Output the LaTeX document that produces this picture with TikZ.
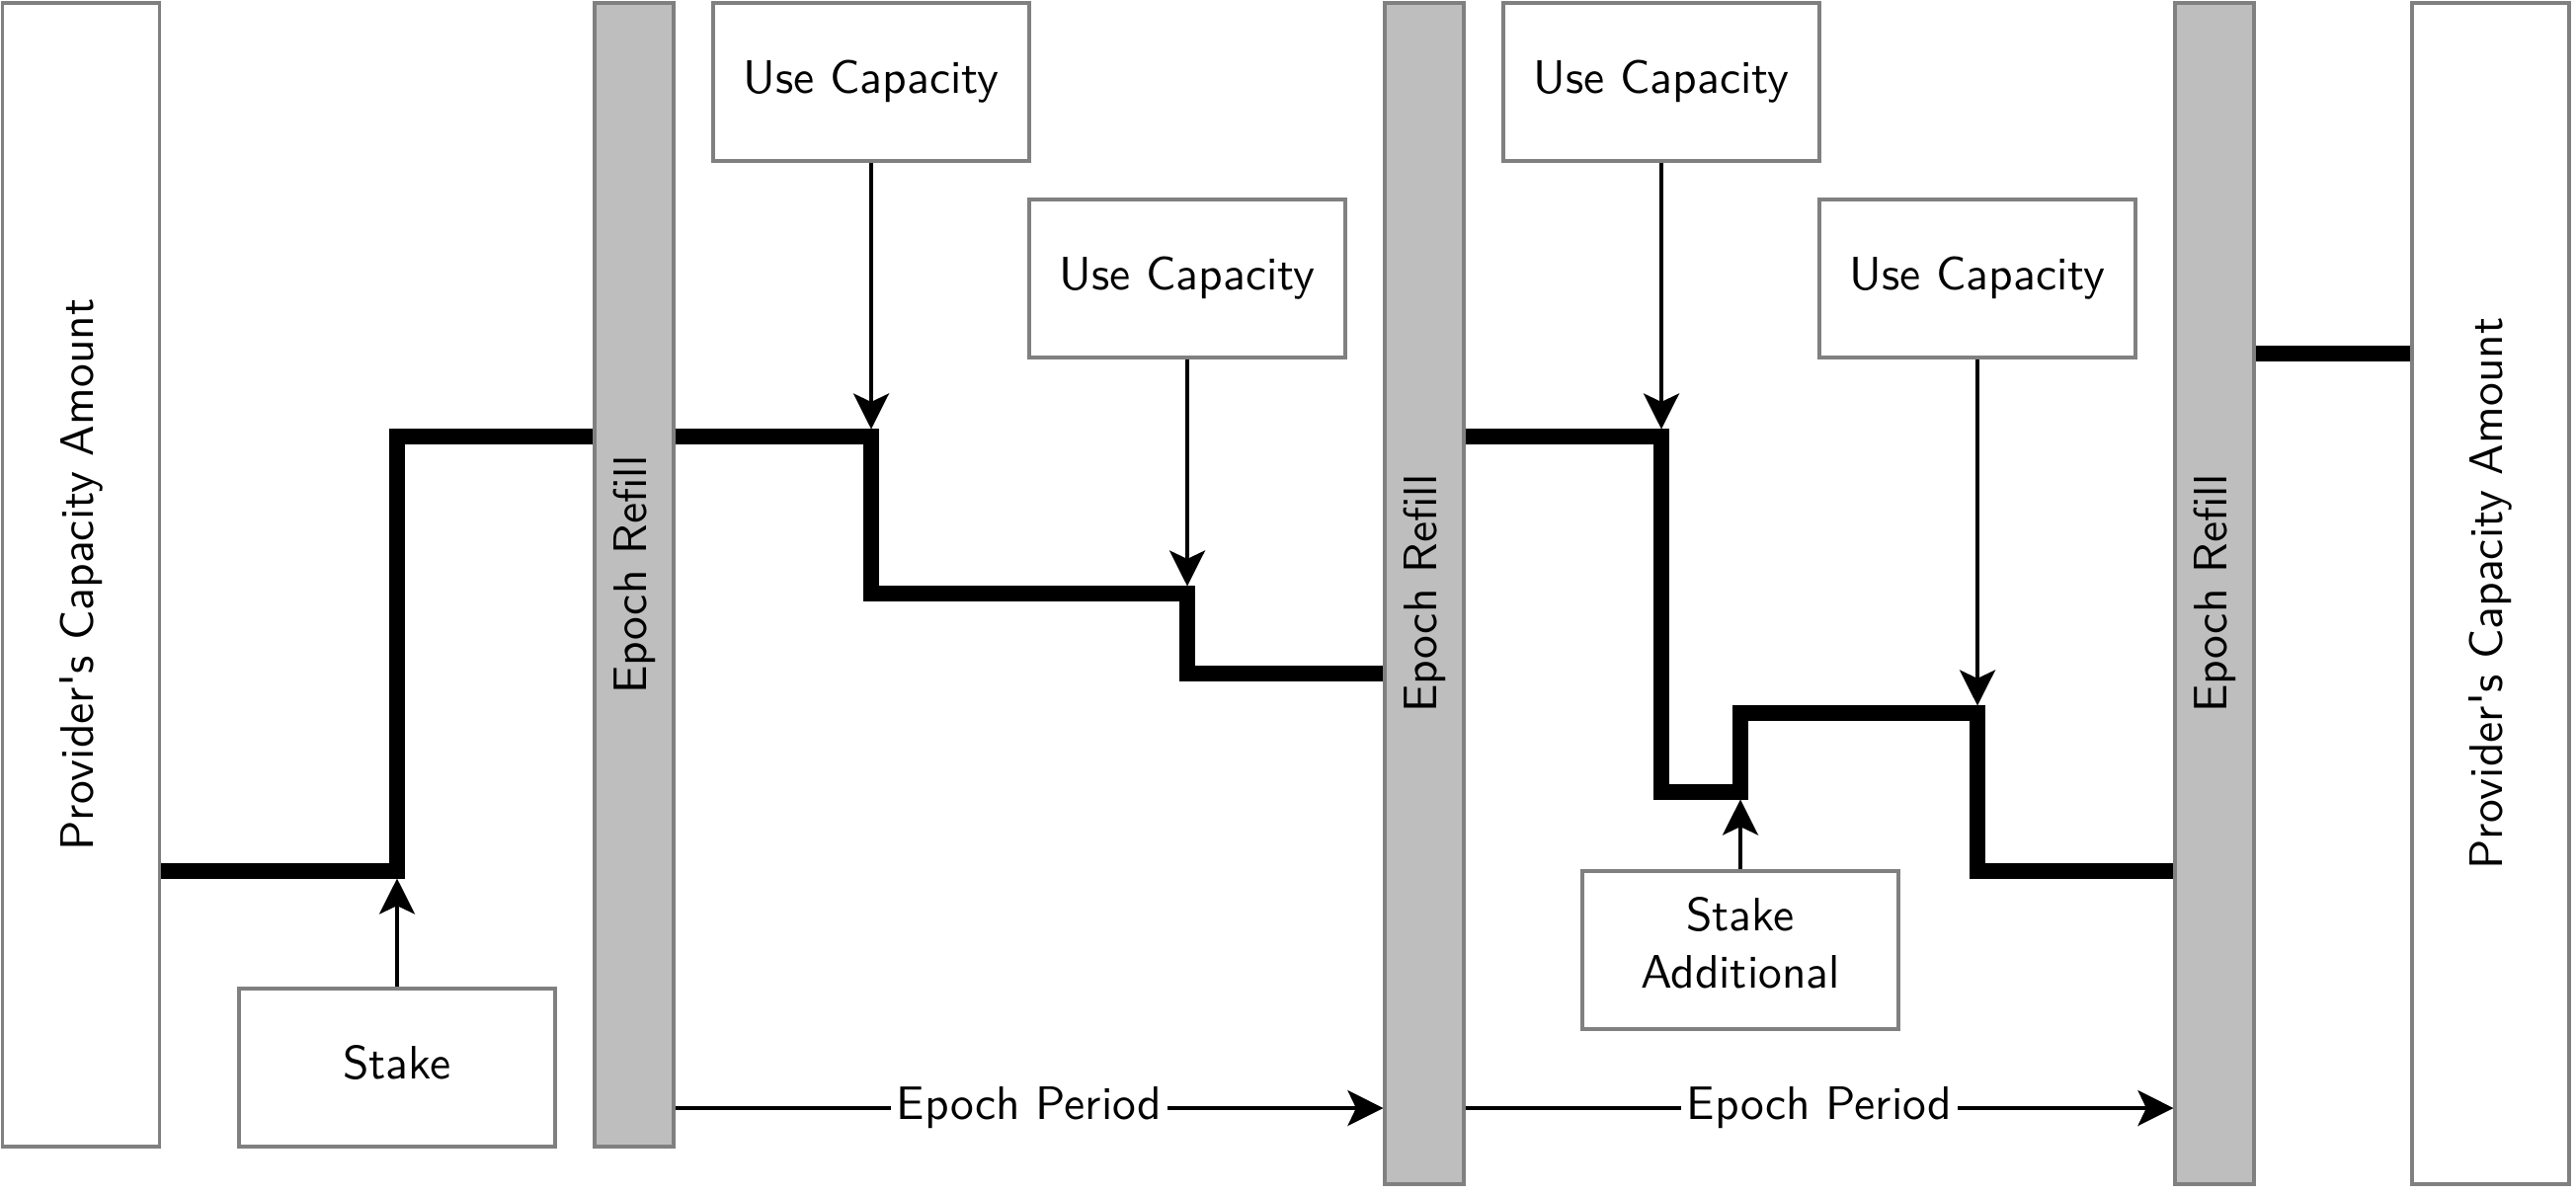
\documentclass[tikz,border=0pt]{standalone}
\usepackage{fontspec}
\usetikzlibrary{arrows.meta}
\definecolor{bordergray}{RGB}{128,128,128}
\definecolor{barfill}{RGB}{190,190,190}
\def\pxu{0.2105pt}
\tikzset{
  rbox/.style 2 args={draw=bordergray, line width=0.65pt, fill=white, inner sep=0pt,
    minimum width=#1*\pxu, minimum height=#2*\pxu, align=center, anchor=center},
  barbox/.style={rbox={80}{#1}, fill=barfill},
  vtext/.style={rotate=90, inner sep=0pt, anchor=center},
  mtext/.style={inner sep=0pt, align=center, anchor=center},
  level/.style={line width=3.2pt, line cap=butt, line join=miter},
  arr/.style={line width=0.7pt, -{Stealth[length=7.6pt, width=7.6pt, inset=1.8pt]}},
  lbl/.style={fill=white, inner sep=1.2pt}
}
\begin{document}
\begin{tikzpicture}[x=0.2105pt, y=-0.2105pt, font=\sffamily\fontsize{10pt}{12.2pt}\selectfont]
\useasboundingbox (0,0) rectangle (2608,1208);

% side boxes
\node[rbox={159}{1158}] (left) at (82,582) {};
\node[vtext] (lefttxt) at (left.center) {Provider\textquotesingle s Capacity Amount};
\node[rbox={159}{1196}] (right) at (2521.5,601) {};
\node[vtext] (righttxt) at (right.center) {Provider\textquotesingle s Capacity Amount};

% epoch refill bars
\node[barbox={1158}] (bar1) at (642,582) {};
\node[vtext] (bar1txt) at (bar1.center) {Epoch Refill};
\node[barbox={1196}] (bar2) at (1442,601) {};
\node[vtext] (bar2txt) at (bar2.center) {Epoch Refill};
\node[barbox={1196}] (bar3) at (2242,601) {};
\node[vtext] (bar3txt) at (bar3.center) {Epoch Refill};

% event boxes
\node[rbox={320}{160}] (uc1) at (882,83) {Use Capacity};
\node[rbox={320}{160}] (uc2) at (1202,282) {Use Capacity};
\node[rbox={320}{160}] (uc3) at (1682,83) {Use Capacity};
\node[rbox={320}{160}] (uc4) at (2002,282) {Use Capacity};
\node[rbox={320}{160}, text height=0.72em, text depth=0.25em] (stake) at (402,1081) {Stake};
\node[rbox={320}{160}] (stakeadd) at (1762,962) {};
\node[mtext] (stakeaddtxt) at ([yshift=1.5pt]stakeadd.center) {Stake\\Additional};

% capacity level
\draw[level] (left.east |- 0,882) -- (402,882) -- (402,442) -- (bar1.west |- 0,442);
\draw[level] (bar1.east |- 0,442) -- (882,442) -- (882,601) -- (1202,601) -- (1202,682) -- (bar2.west |- 0,682);
\draw[level] (bar2.east |- 0,442) -- (1682,442) -- (1682,802) -- (1762,802) -- (1762,722) -- (2002,722) -- (2002,882) -- (bar3.west |- 0,882);
\draw[level] (bar3.east |- 0,358) -- (right.west |- 0,358);

% event arrows
\draw[arr] (uc1.south) -- (uc1.south |- 0,434.5);
\draw[arr] (uc2.south) -- (uc2.south |- 0,593.5);
\draw[arr] (uc3.south) -- (uc3.south |- 0,434.5);
\draw[arr] (uc4.south) -- (uc4.south |- 0,714.5);
\draw[arr] (stake.north) -- (stake.north |- 0,889.5);
\draw[arr] (stakeadd.north) -- (stakeadd.north |- 0,809.5);

% epoch periods
\draw[arr] (bar1.east |- 0,1122) -- node[lbl] (ep1) {Epoch Period} (bar2.west |- 0,1122);
\draw[arr] (bar2.east |- 0,1122) -- node[lbl] (ep2) {Epoch Period} (bar3.west |- 0,1122);
\end{tikzpicture}
\end{document}
